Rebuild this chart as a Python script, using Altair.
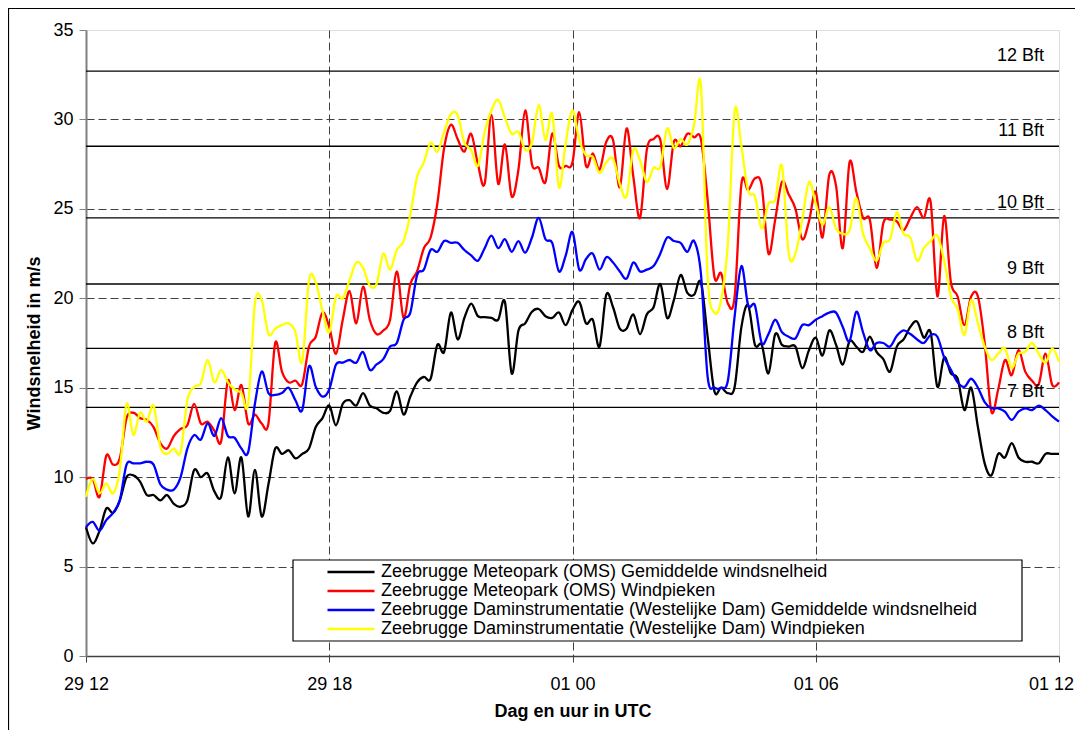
import altair as alt
import pandas as pd

# 10-minute observations from 29 12:00 UTC to 01 12:00 UTC
step_minutes = 10

black_mean_oms = [
    7.2, 6.3, 7.0, 8.25, 8.0, 8.7, 10.0, 10.1, 9.75, 9.0, 9.0, 8.7, 9.0, 8.5, 8.35, 8.7, 10.4, 10.0, 10.2, 9.2, 8.9, 11.1, 9.1, 11.1, 7.8,
    10.4, 7.8, 9.6, 11.6, 11.3, 11.5, 11.05, 11.3, 11.6, 12.8, 13.3, 14.0, 12.9, 14.1, 14.3, 14.0, 14.7, 14.0, 13.85, 13.6, 13.7, 14.8, 13.5, 14.5,
    15.3, 15.6, 15.5, 17.4, 17.0, 19.2, 17.7, 18.9, 19.7, 19.0, 18.95, 18.9, 18.8, 19.8, 15.8, 18.2, 18.6, 19.25, 19.4, 19.0, 18.9, 19.2, 18.5, 19.35, 19.8,
    18.6, 18.8, 17.3, 20.2, 19.5, 18.3, 18.3, 19.1, 18.0, 19.1, 19.5, 20.8, 18.9, 19.9, 21.3, 20.3, 20.2, 20.9, 17.85, 14.8, 15.0, 14.7, 15.05, 18.4,
    19.6, 17.4, 17.4, 15.8, 18.0, 17.4, 17.3, 17.3, 16.1, 17.1, 17.8, 16.8, 18.2, 17.4, 16.3, 17.6, 17.3, 17.0, 17.85, 17.0, 16.6, 15.9, 17.3, 17.7,
    18.4, 18.7, 17.8, 18.1, 15.05, 16.7, 15.8, 15.5, 13.75, 15.0, 12.8, 10.77, 10.1, 11.3, 11.1, 11.9, 11.1, 10.86, 10.86, 10.77, 11.3, 11.3, 11.3,
]

red_gust_oms = [
    9.9, 9.9, 8.9, 11.2, 10.7, 11.05, 13.3, 13.6, 13.3, 13.2, 12.8, 11.9, 11.6, 12.3, 12.7, 12.9, 14.1, 13.0, 13.1, 12.6, 12.0, 15.4, 13.75, 15.15, 13.0,
    13.5, 13.0, 13.0, 17.5, 15.9, 15.3, 15.4, 15.2, 17.3, 17.85, 19.2, 18.4, 16.9, 18.8, 20.4, 18.6, 20.65, 18.8, 18.0, 18.2, 18.8, 21.5, 18.9, 20.8,
    21.5, 22.8, 23.4, 25.3, 28.4, 29.7, 28.9, 28.2, 29.2, 27.5, 26.4, 30.25, 26.4, 28.6, 25.7, 27.2, 30.5, 27.5, 27.3, 26.5, 29.2, 27.4, 27.4, 27.6, 30.4,
    27.4, 28.1, 27.2, 28.75, 28.85, 26.2, 29.5, 26.8, 24.5, 28.3, 28.9, 28.85, 26.1, 28.75, 28.5, 29.2, 29.0, 28.9, 25.5, 21.2, 21.4, 19.7, 20.1, 26.4,
    26.05, 26.7, 26.3, 22.5, 24.4, 26.5, 25.8, 25.0, 23.3, 24.3, 25.96, 23.4, 26.9, 26.3, 22.8, 27.6, 25.96, 24.5, 24.4, 21.7, 24.2, 24.4, 24.3, 23.8,
    24.5, 25.1, 24.5, 25.4, 20.1, 24.6, 20.9, 20.1, 18.5, 20.1, 20.1, 17.5, 13.66, 14.9, 16.55, 15.7, 17.1, 15.9, 15.4, 15.2, 16.9, 15.15, 15.3,
]

blue_mean_dam = [
    7.2, 7.5, 7.0, 7.6, 8.0, 8.7, 10.7, 10.77, 10.77, 10.86, 10.7, 9.6, 9.3, 9.3, 10.0, 11.6, 12.35, 12.1, 13.0, 12.3, 13.3, 12.3, 12.2, 11.6, 11.4,
    14.1, 15.9, 14.7, 14.6, 14.7, 15.0, 14.3, 13.75, 16.2, 15.05, 14.5, 14.9, 16.3, 16.4, 16.55, 16.4, 17.0, 16.0, 16.3, 16.6, 17.3, 17.5, 18.8, 19.2,
    21.3, 21.6, 22.7, 22.6, 23.2, 23.1, 23.1, 22.7, 22.4, 22.1, 22.8, 23.5, 22.8, 23.3, 22.6, 23.2, 22.55, 23.4, 24.5, 23.3, 23.1, 21.5, 22.4, 23.7, 21.6,
    22.2, 22.5, 21.6, 22.3, 22.0, 21.5, 21.1, 22.0, 21.5, 21.6, 21.8, 22.5, 23.4, 23.2, 23.1, 22.6, 23.2, 21.4, 15.6, 15.0, 15.0, 15.4, 19.0, 21.8,
    19.6, 19.6, 17.5, 18.0, 18.8, 18.1, 17.85, 17.76, 18.5, 18.5, 18.8, 19.0, 19.2, 19.2, 18.4, 17.6, 19.25, 18.1, 17.1, 17.5, 17.5, 17.3, 17.9, 18.2,
    18.0, 17.7, 17.5, 17.95, 17.85, 16.7, 16.0, 15.3, 15.05, 15.5, 15.0, 14.2, 13.85, 13.85, 13.66, 13.2, 13.66, 13.85, 13.75, 14.0, 13.75, 13.4, 13.1,
]

yellow_gust_dam = [
    8.9, 9.9, 9.1, 9.65, 9.1, 10.4, 14.1, 12.35, 13.6, 13.1, 14.0, 11.7, 11.3, 11.6, 11.4, 14.3, 15.05, 15.25, 16.55, 15.3, 16.0, 15.3, 14.9, 14.7, 14.1,
    19.7, 19.9, 18.0, 18.3, 18.5, 18.6, 18.1, 16.45, 21.0, 20.9, 19.3, 18.1, 20.1, 20.0, 21.0, 22.0, 21.7, 20.7, 20.8, 22.5, 21.6, 22.7, 23.2, 24.7,
    26.8, 27.6, 28.7, 28.2, 29.3, 30.3, 30.25, 28.7, 28.3, 27.4, 29.3, 30.5, 31.1, 30.1, 29.2, 29.3, 28.3, 28.7, 30.8, 28.85, 30.3, 26.2, 28.7, 30.5, 28.85,
    28.0, 27.9, 27.0, 27.6, 27.8, 26.4, 25.7, 28.3, 27.7, 26.5, 27.3, 27.35, 29.5, 28.4, 28.9, 28.6, 29.7, 31.9, 21.2, 19.2, 19.9, 23.1, 30.5, 28.5,
    26.0, 25.7, 23.9, 25.3, 25.5, 27.4, 22.5, 22.5, 24.4, 26.5, 25.3, 24.1, 25.1, 23.9, 23.6, 23.8, 25.6, 23.6, 22.8, 22.1, 23.1, 23.3, 24.8, 23.6,
    23.4, 22.1, 22.8, 23.2, 23.5, 22.1, 20.1, 19.4, 17.95, 19.9, 18.6, 17.3, 16.55, 16.9, 17.2, 16.1, 16.9, 17.0, 17.5, 16.9, 16.4, 17.2, 16.45,
]

series_names = [
    "Zeebrugge Meteopark (OMS) Gemiddelde windsnelheid",
    "Zeebrugge Meteopark (OMS) Windpieken",
    "Zeebrugge Daminstrumentatie (Westelijke Dam) Gemiddelde windsnelheid",
    "Zeebrugge Daminstrumentatie (Westelijke Dam) Windpieken",
]
series_values = [black_mean_oms, red_gust_oms, blue_mean_dam, yellow_gust_dam]
series_colors = ["#000000", "#ff0000", "#0000ff", "#ffff00"]

x_tick_hours = [0, 6, 12, 18, 24]
x_tick_labels = ["29 12", "29 18", "01 00", "01 06", "01 12"]
y_ticks = [0, 5, 10, 15, 20, 25, 30, 35]

bft_values = [13.9, 17.2, 20.8, 24.5, 28.5, 32.7]
bft_labels = ["7 Bft", "8 Bft", "9 Bft", "10 Bft", "11 Bft", "12 Bft"]

for vals in series_values:
    assert len(vals) == 145, len(vals)

rows = []
for name, vals in zip(series_names, series_values):
    for i, v in enumerate(vals):
        rows.append({"uur": i * step_minutes / 60.0, "snelheid": v, "reeks": name})
df = pd.DataFrame(rows)
bft_df = pd.DataFrame({"bft": bft_values, "label": bft_labels})

FONT = "Liberation Sans"
W, H = 973, 626
FS = 18

label_expr = " : ".join(
    f"datum.value == {h} ? '{lab}'" for h, lab in zip(x_tick_hours, x_tick_labels)
) + " : ''"

x_enc = alt.X(
    "uur:Q",
    scale=alt.Scale(domain=[x_tick_hours[0], x_tick_hours[-1]], nice=False),
    axis=alt.Axis(
        values=x_tick_hours,
        labelExpr=label_expr,
        title="Dag en uur in UTC",
        titleFontSize=FS,
        titleFontWeight="bold",
        titlePadding=9,
        labelFontSize=FS,
        labelPadding=13,
        labelOffset={
            "condition": {"test": f"datum.value == {x_tick_hours[-1]}", "value": -8},
            "value": 0,
        },
        tickSize=6,
        tickColor="#404040",
        domainColor="#404040",
        domainWidth=1.5,
        labelFlush=False,
        labelOverlap=False,
        labelBound=False,
        grid=True,
        gridDash=[8, 4],
        gridColor="#404040",
        gridWidth=1,
        gridOpacity={
            "condition": {
                "test": f"datum.value == {x_tick_hours[0]} || datum.value == {x_tick_hours[-1]}",
                "value": 0,
            },
            "value": 1,
        },
    ),
)

y_enc = alt.Y(
    "snelheid:Q",
    scale=alt.Scale(domain=[y_ticks[0], y_ticks[-1]], nice=False),
    axis=alt.Axis(
        values=y_ticks,
        title="Windsnelheid in m/s",
        titleFontSize=FS,
        titleFontWeight="bold",
        titlePadding=9,
        labelFontSize=FS,
        labelPadding=6,
        tickSize=7,
        tickColor="#808080",
        domainColor="#808080",
        domainWidth=2,
        grid=True,
        gridDash=[8, 4],
        gridColor="#404040",
        gridWidth=1,
        gridOpacity={
            "condition": {
                "test": f"datum.value == {y_ticks[0]} || datum.value == {y_ticks[-1]}",
                "value": 0,
            },
            "value": 1,
        },
    ),
)

color_enc = alt.Color(
    "reeks:N",
    scale=alt.Scale(domain=series_names, range=series_colors),
    legend=alt.Legend(
        orient="none",
        legendX=240,
        legendY=534,
        title=None,
        symbolType="stroke",
        symbolSize=2209,
        symbolStrokeWidth=2.5,
        clipHeight=16,
        rowPadding=1,
        padding=0,
        labelFontSize=FS,
        labelFont=FONT,
        labelColor="black",
        labelLimit=900,
        labelOffset=5,
    ),
)

frame = alt.Chart(pd.DataFrame({"k": [0]})).mark_rect(
    fillOpacity=0, stroke="black", strokeWidth=1.2
).encode(
    x=alt.value(-77.5), x2=alt.value(1200), y=alt.value(-21.5), y2=alt.value(900)
)

bft_rules = alt.Chart(bft_df).mark_rule(color="black", strokeWidth=1.3).encode(
    y=alt.Y("bft:Q", scale=alt.Scale(domain=[y_ticks[0], y_ticks[-1]], nice=False))
)

bft_text = alt.Chart(bft_df).mark_text(
    align="right", baseline="alphabetic", dy=-10, fontSize=FS, font=FONT, color="black"
).encode(
    y="bft:Q", x=alt.value(958), text="label:N"
)

lines = []
for name in series_names:
    lines.append(
        alt.Chart(df)
        .transform_filter(alt.datum.reeks == name)
        .mark_line(interpolate="cardinal", strokeWidth=2.3)
        .encode(x=x_enc, y=y_enc, color=color_enc)
    )

legend_box = alt.Chart(pd.DataFrame({"k": [0]})).mark_rect(
    fill="white", stroke="black", strokeWidth=1.2
).encode(
    x=alt.value(207), x2=alt.value(936), y=alt.value(530), y2=alt.value(611)
)

chart = alt.layer(frame, bft_rules, *lines, bft_text, legend_box).properties(
    width=W,
    height=H,
    autosize=alt.AutoSizeParams(type="none"),
    padding={"left": 78, "top": 22, "right": 16, "bottom": 74},
).configure_view(
    stroke="#c0c0c0", strokeWidth=2
).configure_axis(
    labelFont=FONT, titleFont=FONT, labelColor="black", titleColor="black"
).configure(
    background="white"
)

chart.save("out.html", embed_options={"renderer": "svg", "actions": False})
